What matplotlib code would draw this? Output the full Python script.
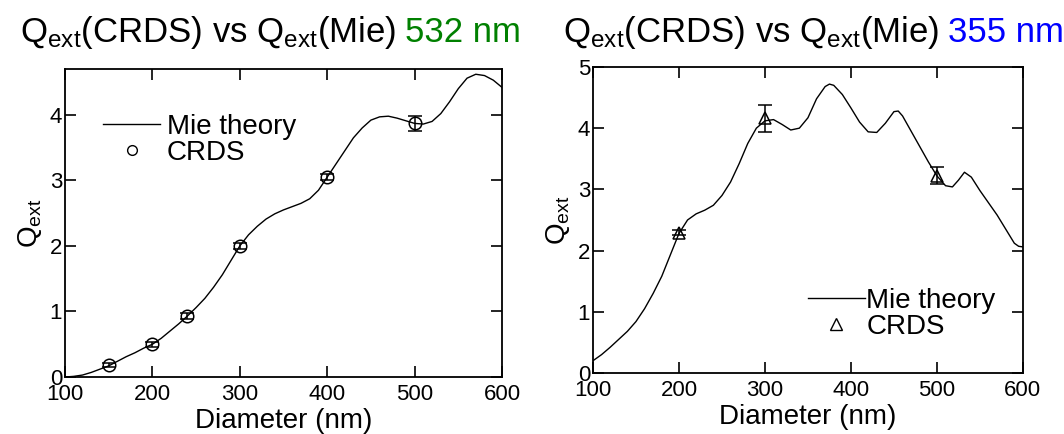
"""Q_ext from CRDS vs Mie theory at 532 nm and 355 nm."""

import matplotlib

matplotlib.use("Agg")
import matplotlib.pyplot as plt
from matplotlib.lines import Line2D

plt.rcParams["font.family"] = ["Liberation Sans", "DejaVu Sans"]
plt.rcParams["mathtext.default"] = "regular"

# 532 nm: Mie theory curve (diameter nm, Q_ext) and CRDS measurements
mie532_d = [100, 110, 120, 130, 140, 150, 160, 170, 180, 190, 200, 210, 220, 230,
            240, 250, 260, 270, 280, 290, 300, 310, 320, 330, 340, 350, 360, 370,
            380, 390, 400, 410, 420, 430, 440, 450, 460, 470, 480, 490, 500, 510,
            520, 530, 540, 550, 560, 570, 580, 590, 600]
mie532_q = [0.0, 0.01, 0.03, 0.07, 0.12, 0.17, 0.24, 0.31, 0.37, 0.44, 0.5, 0.59,
            0.7, 0.81, 0.93, 1.06, 1.2, 1.37, 1.56, 1.78, 2.0, 2.17, 2.3, 2.41, 2.49,
            2.55, 2.6, 2.65, 2.72, 2.85, 3.05, 3.25, 3.45, 3.65, 3.8, 3.92, 3.97,
            3.98, 3.95, 3.91, 3.87, 3.86, 3.9, 4.02, 4.2, 4.4, 4.56, 4.62, 4.6, 4.53,
            4.42]
crds532_d = [150, 200, 240, 300, 400, 500]
crds532_q = [0.18, 0.5, 0.93, 2.0, 3.05, 3.87]
crds532_err = [0.03, 0.04, 0.05, 0.05, 0.05, 0.12]

# 355 nm: Mie theory curve and CRDS measurements
mie355_d = [100, 110, 120, 130, 140, 150, 160, 170, 180, 190, 200, 210, 220, 230,
            240, 250, 260, 270, 280, 290, 300, 310, 320, 330, 340, 350, 360, 370,
            375, 380, 390, 400, 410, 420, 430, 440, 450, 455, 460, 470, 480, 490,
            500, 510, 518, 525, 532, 540, 550, 560, 570, 580, 590, 595, 600]
mie355_q = [0.2, 0.3, 0.42, 0.55, 0.68, 0.84, 1.05, 1.3, 1.58, 1.93, 2.28, 2.5,
            2.6, 2.66, 2.74, 2.9, 3.12, 3.42, 3.75, 4.0, 4.12, 4.14, 4.06, 3.97,
            4.0, 4.17, 4.48, 4.68, 4.72, 4.7, 4.55, 4.33, 4.1, 3.94, 3.93, 4.08,
            4.27, 4.28, 4.2, 3.95, 3.7, 3.45, 3.22, 3.06, 3.04, 3.15, 3.28, 3.2,
            2.98, 2.78, 2.58, 2.35, 2.12, 2.07, 2.06]
crds355_d = [200, 300, 500]
crds355_q = [2.29, 4.16, 3.22]
crds355_err = [0.04, 0.22, 0.14]

TICK_FS = 16
LABEL_FS = 20
TITLE_FS = 25


def style_axes(ax, ymax, yticks):
    ax.set_xlim(100, 600)
    ax.set_ylim(0, ymax)
    ax.set_xticks([100, 200, 300, 400, 500, 600])
    ax.set_yticks(yticks)
    ax.tick_params(direction="in", length=8, width=1.2, top=True, right=True,
                   labelsize=TICK_FS)
    ax.tick_params(axis="x", pad=5)
    ax.tick_params(axis="y", pad=2)
    for s in ax.spines.values():
        s.set_linewidth(1.3)
    ax.set_xlabel("Diameter (nm)", fontsize=LABEL_FS, labelpad=2)
    ax.set_ylabel("Q$_{ext}$", fontsize=LABEL_FS, labelpad=4)


def add_title(fig, x, y, text, tag, color):
    t = fig.text(x, y, text, fontsize=TITLE_FS, va="baseline", ha="left")
    fig.canvas.draw()
    bb = t.get_window_extent()
    x2 = bb.x1 / fig.bbox.width + 0.008
    fig.text(x2, y, tag, fontsize=TITLE_FS, va="baseline", ha="left", color=color)


fig = plt.figure(figsize=(10.64, 4.34), dpi=100)
ax1 = fig.add_axes([0.0611, 0.1313, 0.4107, 0.7097])
ax2 = fig.add_axes([0.5573, 0.1406, 0.4041, 0.7051])

# left panel: 532 nm
ax1.plot(mie532_d, mie532_q, color="black", lw=1.0)
ax1.errorbar(crds532_d, crds532_q, yerr=crds532_err, fmt="o", ms=9, mfc="none",
             mec="black", mew=1.1, ecolor="black", elinewidth=1.1, capsize=5,
             capthick=1.1)
style_axes(ax1, 4.7, [0, 1, 2, 3, 4])
h1 = [Line2D([], [], color="black", lw=1.0),
      Line2D([], [], ls="none", marker="o", ms=7, mfc="none", mec="black", mew=1.0)]
ax1.legend(h1, ["Mie theory", "CRDS"], loc="upper left", bbox_to_anchor=(0.087, 0.855),
           frameon=False, fontsize=LABEL_FS, handlelength=2.05, handletextpad=0.25,
           labelspacing=0.0, borderpad=0, borderaxespad=0)

# right panel: 355 nm
ax2.plot(mie355_d, mie355_q, color="black", lw=1.0)
ax2.errorbar(crds355_d, crds355_q, yerr=crds355_err, fmt="^", ms=9, mfc="none",
             mec="black", mew=1.1, ecolor="black", elinewidth=1.1, capsize=5,
             capthick=1.1)
style_axes(ax2, 5, [0, 1, 2, 3, 4, 5])
h2 = [Line2D([], [], color="black", lw=1.0),
      Line2D([], [], ls="none", marker="^", ms=8, mfc="none", mec="black", mew=1.0)]
ax2.legend(h2, ["Mie theory", "CRDS"], loc="upper left", bbox_to_anchor=(0.5, 0.277),
           frameon=False, fontsize=LABEL_FS, handlelength=2.05, handletextpad=0.05,
           labelspacing=0.0, borderpad=0, borderaxespad=0)

add_title(fig, 0.019, 0.903, "Q$_{ext}$(CRDS) vs Q$_{ext}$(Mie)", "532 nm", "#008000")
add_title(fig, 0.529, 0.903, "Q$_{ext}$(CRDS) vs Q$_{ext}$(Mie)", "355 nm", "#0000ff")

fig.savefig("out.png", dpi=100)
